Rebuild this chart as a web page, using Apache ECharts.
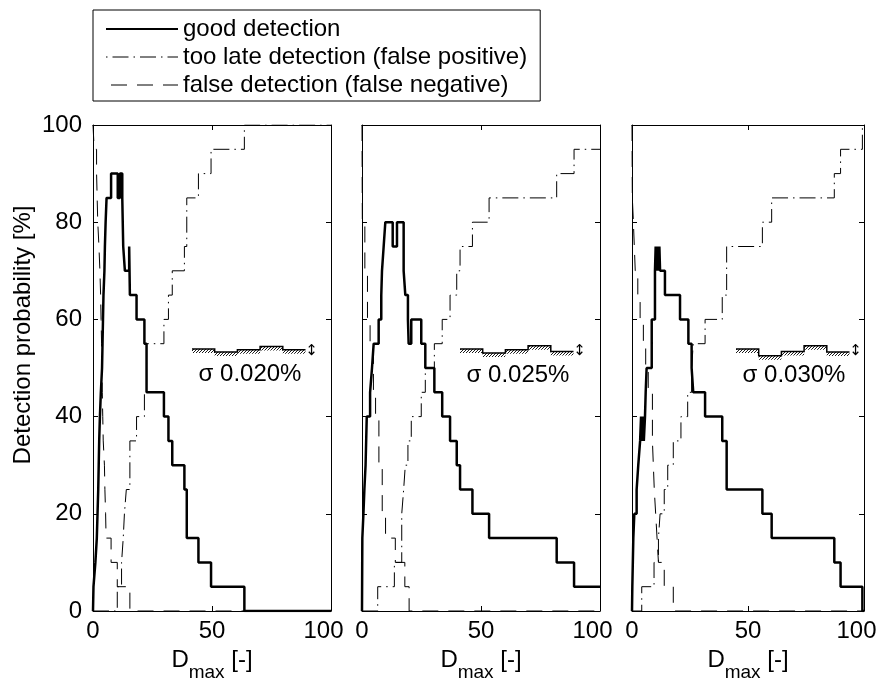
<!DOCTYPE html>
<html>
<head>
<meta charset="utf-8">
<title>Detection probability</title>
<style>
  html, body { margin: 0; padding: 0; background: #fff; }
  #chart { width: 885px; height: 681px; }
</style>
</head>
<body>
<div id="chart"></div>
<script src="https://cdn.jsdelivr.net/npm/echarts@6/dist/echarts.min.js"></script>
<script>
// tick labels
var xTicks = [0, 50, 100];
var yTicks = [0, 20, 40, 60, 80, 100];
var sigmaLabels = ['\u03c3 0.020%', '\u03c3 0.025%', '\u03c3 0.030%'];
var names = ['good detection', 'too late detection (false positive)', 'false detection (false negative)'];

// step curves, [Dmax, probability %], value holds until next point
var good1 = [[0,0],[0.2,5],[1.0,10],[1.6,15],[1.9,20],[2.2,25],[2.4,30],[2.6,35],[2.9,40],[3.3,45],[3.8,50],[4.0,55],
  [4.2,60],[4.4,65],[4.8,70],[5.0,75],[5.3,80],[5.7,85],[7.6,90],[10.4,85],[11.3,90],[12.3,85],[12.7,75],[13.4,70],
  [15.2,75],[15.5,65],[18.3,60],[21.6,55],[22.5,45],[29.8,40],[31.7,35],[33.3,30],[38.4,25],[39.4,15],[44.3,10],[49.6,5],
  [63.6,0],[100,0]];
var late1 = [[0,0],[10.2,5],[12.0,10],[12.7,15],[13.2,20],[14.0,25],[15.5,35],[18.3,40],[21.6,45],[22.5,55],[29.8,60],
  [31.7,65],[33.3,70],[38.4,75],[39.4,85],[44.3,90],[49.6,95],[63.6,100],[100,100]];
var neg1 = [[0,100],[0.5,95],[1.5,90],[2.0,80],[2.5,75],[2.9,70],[3.2,65],[3.4,60],[3.6,55],[3.9,45],[4.1,40],[4.3,35],
  [4.8,30],[5.0,25],[5.3,20],[5.5,15],[7.6,10],[10.2,5],[15.5,0],[100,0]];

var good2 = [[0,0],[0.14,15],[0.6,20],[1.0,25],[1.5,30],[2.0,40],[3.4,45],[4.2,50],[4.9,55],[7.0,60],[8.1,65],[8.4,70],
  [9.1,75],[9.8,80],[12.9,75],[14.7,80],[17.5,70],[18.2,65],[19.3,60],[19.6,55],[20.7,60],[24.9,55],[26.6,50],[30.4,45],
  [33.7,40],[37.0,35],[39.8,30],[41.2,25],[46.4,20],[53.4,15],[81.8,10],[89.1,5],[100,5]];
var late2 = [[0,0],[6.6,5],[13.6,10],[16.7,20],[17.5,25],[18.2,30],[19.3,35],[20.7,40],[24.9,45],[26.6,50],[30.4,55],
  [33.7,60],[37.0,65],[39.8,70],[41.2,75],[46.4,80],[53.4,85],[81.8,90],[89.1,95],[100,95]];
var neg2 = [[0,100],[0.14,80],[1.2,70],[2.3,60],[3.4,55],[4.8,45],[5.7,40],[7.1,30],[8.5,20],[9.9,15],[14.0,10],[18.0,5],
  [19.8,0],[100,0]];

var good3 = [[0,0],[0.14,5],[0.57,15],[1.0,20],[2.0,25],[2.7,30],[3.5,35],[3.9,40],[4.3,35],[4.7,40],[5.1,35],[5.6,40],
  [5.9,45],[6.3,50],[8.5,60],[9.9,70],[10.2,75],[10.6,70],[11.0,75],[11.4,70],[11.8,75],[12.1,70],[14.2,65],[20.7,60],
  [24.3,55],[25.7,50],[26.4,45],[31.5,40],[38.9,35],[40.8,25],[56.2,20],[60.2,15],[87.2,10],[89.9,5],[99.3,0],[100,0]];
var late3 = [[0,0],[4.2,5],[9.5,10],[11.4,15],[12.1,20],[13.9,25],[15.4,30],[17.8,35],[21.1,40],[24.0,45],[25.7,50],
  [26.4,55],[31.5,60],[38.9,65],[40.8,75],[56.2,80],[60.2,85],[87.2,90],[89.9,95],[99.3,100],[100,100]];
var neg3 = [[0,100],[0.14,85],[0.6,80],[1.4,70],[2.5,65],[3.5,60],[4.9,55],[5.9,50],[7.0,45],[8.8,35],[9.2,30],[9.6,25],
  [10.2,20],[10.8,15],[11.4,10],[13.9,5],[17.8,0],[100,0]];

var curves = [[good1, late1, neg1], [good2, late2, neg2], [good3, late3, neg3]];

// layout of the three panels (pixels)
var panelLeft = [93, 362, 632];
var panelWidth = [238, 238, 232];
var FONT = 'Liberation Sans';

var lineStyles = [
  { color: '#000', width: 2.5, type: 'solid' },
  { color: '#000', width: 1, type: [16, 5, 1.5, 5] },
  { color: '#000', width: 1, type: [16, 10] }
];

var grids = [], xAxes = [], yAxes = [], series = [];
panelLeft.forEach(function (left, i) {
  grids.push({ left: left, width: panelWidth[i], top: 125, height: 486, outerBoundsMode: 'none', containLabel: false });
  var base = {
    gridIndex: i, type: 'value', min: xTicks[0], max: xTicks[xTicks.length - 1],
    interval: xTicks[1] - xTicks[0], splitLine: { show: false },
    axisLine: { onZero: false, lineStyle: { color: '#000', width: 1 } },
    axisTick: { inside: true, length: 5, lineStyle: { color: '#000' } }
  };
  xAxes.push(Object.assign({}, base, {
    position: 'bottom',
    axisLabel: {
      color: '#000', fontSize: 24, fontFamily: FONT, margin: 8, showMinLabel: true, showMaxLabel: true,
      formatter: function (v) { return v === xTicks[xTicks.length - 1] ? '{r|' + v + '}' : String(v); },
      rich: { r: { fontSize: 24, fontFamily: FONT, color: '#000', padding: [0, 15, 0, 0] } }
    },
    name: '{d|D}{s|max}{d| [-]}', nameLocation: 'middle', nameGap: 24,
    nameTextStyle: {
      color: '#000', fontFamily: FONT, fontSize: 24,
      rich: {
        d: { fontSize: 24, fontFamily: FONT, color: '#000' },
        s: { fontSize: 19, fontFamily: FONT, color: '#000', padding: [26, 0, 0, 0] }
      }
    }
  }));
  xAxes.push(Object.assign({}, base, { position: 'top', axisLabel: { show: false } }));
  var ybase = {
    gridIndex: i, type: 'value', min: yTicks[0], max: yTicks[yTicks.length - 1],
    interval: yTicks[1] - yTicks[0], splitLine: { show: false },
    axisLine: { show: true, onZero: false, lineStyle: { color: '#000', width: 1 } },
    axisTick: { show: true, inside: true, length: 5, lineStyle: { color: '#000' } }
  };
  yAxes.push(Object.assign({}, ybase, {
    position: 'left',
    axisLabel: { show: i === 0, color: '#000', fontSize: 24, fontFamily: FONT, margin: 11 }
  }));
  yAxes.push(Object.assign({}, ybase, { position: 'right', axisLabel: { show: false } }));

  curves[i].forEach(function (d, k) {
    series.push({
      name: names[k], type: 'line', step: 'end', data: d,
      xAxisIndex: 2 * i, yAxisIndex: 2 * i,
      showSymbol: false, symbol: 'none', z: 3 - k,
      lineStyle: lineStyles[k], itemStyle: { color: '#000' }
    });
  });
});

// hatch pattern for the small profile sketch
function hatch() {
  var c = document.createElement('canvas');
  c.width = 3; c.height = 3;
  var g = c.getContext('2d');
  g.strokeStyle = '#000'; g.lineWidth = 0.9;
  g.beginPath(); g.moveTo(-1, 4); g.lineTo(4, -1); g.stroke();
  return c;
}
var hatchImg = hatch();

// profile offsets of the little sketch (pixels)
var sketchSteps = [[0, 3, 0.7, -2.6, 0.7], [0, 4, 0.7, -3.3, 2.4], [0, 6.7, 2.4, -3.3, 3]];
var sketchPos = [[192, 349], [460, 349], [736, 349]];
var sigmaPos = [[250, 374], [518, 375], [794, 375]];

var graphics = [];
sketchSteps.forEach(function (steps, i) {
  var x0 = sketchPos[i][0], y0 = sketchPos[i][1], w = 22.7;
  var top = [];
  steps.forEach(function (s, j) {
    top.push([x0 + j * w, y0 + s]);
    top.push([x0 + (j + 1) * w, y0 + s]);
  });
  var poly = top.slice();
  for (var j = top.length - 1; j >= 0; j--) poly.push([top[j][0], top[j][1] + 4]);
  graphics.push({ type: 'polygon', shape: { points: poly }, style: { fill: { image: hatchImg, repeat: 'repeat' }, stroke: null } });
  graphics.push({ type: 'polyline', shape: { points: top }, style: { stroke: '#000', lineWidth: 1.5, fill: null } });
  var ax = x0 + 5 * w + 6;
  graphics.push({ type: 'text', x: ax, y: y0 + 2, style: { text: '\u2195', fontFamily: 'DejaVu Sans', fontSize: 15, fill: '#000', align: 'center', verticalAlign: 'middle' } });
  graphics.push({ type: 'text', x: sigmaPos[i][0], y: sigmaPos[i][1], style: { text: sigmaLabels[i], fontFamily: FONT, fontSize: 24, fill: '#000', align: 'center', verticalAlign: 'middle' } });
});
graphics.push({
  type: 'text', x: 23, y: 335, rotation: Math.PI / 2,
  style: { text: 'Detection probability [%]', fontFamily: FONT, fontSize: 24, fill: '#000', align: 'center', verticalAlign: 'middle' }
});

var chart = echarts.init(document.getElementById('chart'), null, { renderer: 'canvas' });
chart.setOption({
  animation: false,
  backgroundColor: '#fff',
  legend: {
    left: 93, top: 10, orient: 'vertical',
    padding: [7, 13, 4, 12], itemGap: 4, itemWidth: 72, itemHeight: 14,
    borderColor: '#000', borderWidth: 1, backgroundColor: '#fff',
    itemStyle: { opacity: 0 },
    textStyle: { color: '#000', fontSize: 24, fontFamily: FONT },
    data: [
      { name: names[0], lineStyle: { width: 2, color: '#000', type: 'solid', opacity: 1 } },
      { name: names[1], lineStyle: { width: 1, color: '#000', type: [16, 5, 1.5, 5], dashOffset: 21, opacity: 1 } },
      { name: names[2], lineStyle: { width: 1, color: '#000', type: [16, 10], opacity: 1 } }
    ]
  },
  grid: grids,
  xAxis: xAxes,
  yAxis: yAxes,
  series: series,
  graphic: graphics
});
</script>
</body>
</html>
